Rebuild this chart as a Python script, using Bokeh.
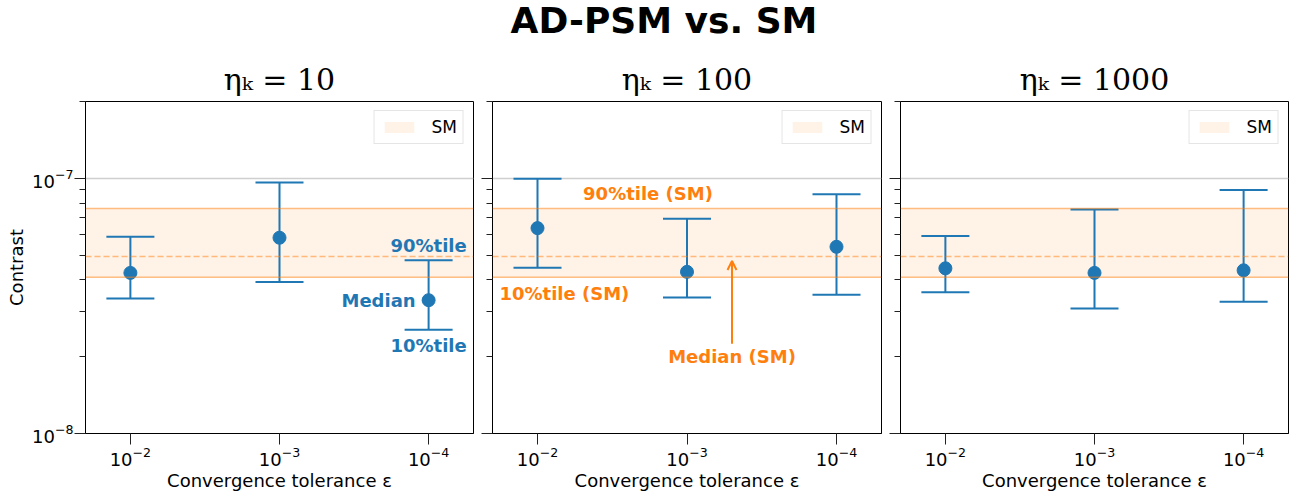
from bokeh.plotting import figure
from bokeh.models import (Range1d, FixedTicker, LogTickFormatter, Whisker, ColumnDataSource,
                          TeeHead, Span, Label, Arrow, OpenHead, Legend, LegendItem, Div,
                          CustomJSTickFormatter)
from bokeh.layouts import row, column
from bokeh.embed import file_html
from bokeh.resources import INLINE

# ---------------- data ----------------
eps = [1e-2, 1e-3, 1e-4]
eta_titles = ["ηₖ = 10", "ηₖ = 100", "ηₖ = 1000"]

median_10 = [4.26e-8, 5.85e-8, 3.33e-8]
p10_10 = [3.38e-8, 3.92e-8, 2.55e-8]
p90_10 = [5.90e-8, 9.64e-8, 4.77e-8]

median_100 = [6.38e-8, 4.30e-8, 5.39e-8]
p10_100 = [4.46e-8, 3.41e-8, 3.50e-8]
p90_100 = [9.96e-8, 6.94e-8, 8.66e-8]

median_1000 = [4.44e-8, 4.26e-8, 4.36e-8]
p10_1000 = [3.58e-8, 3.09e-8, 3.28e-8]
p90_1000 = [5.94e-8, 7.55e-8, 8.99e-8]

sm_median = 4.94e-8
sm_p10 = 4.10e-8
sm_p90 = 7.62e-8

# annotation anchors (panel 2)
arrow_x = 5e-4
arrow_text_y = 2e-8
arrow_start_y = 2.25e-8

BLUE = "#1f77b4"
ORANGE = "#ff7f0e"
FONT = "DejaVu Sans"

panels = [(median_10, p10_10, p90_10), (median_100, p10_100, p90_100),
          (median_1000, p10_1000, p90_1000)]

borders = [(85, 8), (11, 8), (11, 8)]
fwidths = [388, 389, 388]
figs = []
for i, ((med, lo, hi), (bl, br), fw) in enumerate(zip(panels, borders, fwidths)):
    xr = Range1d(2e-2, 5e-5)
    p = figure(x_axis_type="log", y_axis_type="log",
               x_range=xr, y_range=Range1d(1e-8, 2e-7),
               frame_width=fw, frame_height=332,
               min_border_left=bl, min_border_right=br, min_border_top=55, min_border_bottom=58,
               output_backend="svg", toolbar_location=None)
    p.background_fill_color = "white"
    p.border_fill_color = "white"
    p.outline_line_color = "black"
    p.outline_line_width = 1

    p.title.text = eta_titles[i]
    p.title.text_font = "DejaVu Serif"
    p.title.text_font_size = "30px"
    p.title.text_font_style = "normal"
    p.title.text_color = "black"
    p.title.align = "center"
    p.title.standoff = 10

    p.xgrid.visible = False
    p.ygrid.grid_line_color = "#cfcfcf"
    p.ygrid.grid_line_width = 1.5

    # x axis
    p.xaxis.ticker = FixedTicker(ticks=eps)
    p.xaxis.formatter = LogTickFormatter()
    p.xaxis.axis_label = "Convergence tolerance ε"
    # y axis
    p.yaxis.ticker = FixedTicker(ticks=[1e-8, 1e-7],
                                 minor_ticks=[k * 1e-8 for k in range(2, 10)] + [2e-7])
    if i == 0:
        p.yaxis.formatter = LogTickFormatter()
    else:
        p.yaxis.formatter = CustomJSTickFormatter(code="return ''")
    for ax in (p.xaxis[0], p.yaxis[0]):
        ax.axis_line_color = "black"
        ax.major_tick_line_color = "#222222"
        ax.minor_tick_line_color = "#222222"
        ax.major_tick_out = 11
        ax.major_tick_in = 0
        ax.minor_tick_out = 6
        ax.minor_tick_in = 0
        ax.major_label_text_font = FONT
        ax.major_label_text_font_size = "18px"
        ax.major_label_text_color = "black"
        ax.axis_label_text_font = FONT
        ax.axis_label_text_font_size = "18px"
        ax.axis_label_text_font_style = "normal"
        ax.axis_label_text_color = "black"
    p.xaxis.major_label_standoff = 2
    p.xaxis.axis_label_standoff = 1
    p.yaxis.major_label_standoff = 1
    p.yaxis.axis_label_standoff = 2
    if i == 0:
        p.yaxis.axis_label = "Contrast"
    else:
        p.yaxis.major_label_standoff = 0

    # SM band (spans the full x range)
    band = p.varea(x=[xr.start, xr.end], y1=[sm_p10, sm_p10], y2=[sm_p90, sm_p90],
                   fill_color=ORANGE, fill_alpha=0.1, level="underlay")
    p.add_layout(Span(location=sm_p10, dimension="width", line_color=ORANGE, line_alpha=0.5,
                      line_width=1.5))
    p.add_layout(Span(location=sm_p90, dimension="width", line_color=ORANGE, line_alpha=0.5,
                      line_width=1.5))
    p.add_layout(Span(location=sm_median, dimension="width", line_color=ORANGE, line_alpha=0.5,
                      line_width=1.5, line_dash="6 3"))

    # error bars
    src = ColumnDataSource(dict(x=eps, med=med, lo=lo, hi=hi))
    p.add_layout(Whisker(source=src, base="x", lower="lo", upper="hi", dimension="height",
                         line_color=BLUE, line_width=2,
                         upper_head=TeeHead(size=48, line_color=BLUE, line_width=2),
                         lower_head=TeeHead(size=48, line_color=BLUE, line_width=2)))
    p.scatter("x", "med", source=src, size=13, fill_color=BLUE, line_color=BLUE)

    legend = Legend(items=[LegendItem(label="SM", renderers=[band])], location="top_right",
                    margin=9, padding=6, glyph_width=37, glyph_height=14, label_standoff=14,
                    label_text_font=FONT, label_text_font_size="17px", label_text_color="black",
                    border_line_color="#cccccc", border_line_width=1,
                    background_fill_alpha=0.8)
    p.add_layout(legend, "center")

    if i == 0:
        lab = dict(text_font=FONT, text_font_size="18px", text_font_style="bold", text_color=BLUE)
        p.add_layout(Label(x=eps[2], y=hi[2], text="90%tile", text_align="center",
                           text_baseline="bottom", y_offset=4, **lab))
        p.add_layout(Label(x=eps[2], y=med[2], text="Median", text_align="right",
                           text_baseline="middle", x_offset=-13, **lab))
        p.add_layout(Label(x=eps[2], y=lo[2], text="10%tile", text_align="center",
                           text_baseline="top", y_offset=-5, **lab))
    if i == 1:
        lab = dict(text_font=FONT, text_font_size="18px", text_font_style="bold", text_color=ORANGE)
        p.add_layout(Label(x=eps[1], y=sm_p90, text="90%tile (SM)", text_align="center",
                           text_baseline="bottom", x_offset=-39, y_offset=4, **lab))
        p.add_layout(Label(x=eps[0], y=sm_p10, text="10%tile (SM)", text_align="left",
                           text_baseline="top", x_offset=-38, y_offset=-6, **lab))
        p.add_layout(Label(x=arrow_x, y=arrow_text_y, text="Median (SM)", text_align="center",
                           text_baseline="middle", **lab))
        p.add_layout(Arrow(x_start=arrow_x, y_start=arrow_start_y, x_end=arrow_x,
                           y_end=sm_median * 0.96, line_color=ORANGE, line_width=2,
                           end=OpenHead(size=9, line_color=ORANGE, line_width=2)))
    figs.append(p)

title = Div(text='<div style="font-family:\'DejaVu Sans\'; font-weight:bold; font-size:36px; '
                 'line-height:41px; text-align:center; width:1296px; padding-left:32px; '
                 'box-sizing:border-box; color:black;">AD-PSM vs. SM</div>',
            width=1296, height=46, margin=(0, 0, 0, 0))

layout = column(title, row(*figs, spacing=0), spacing=0)
open("out.html", "w").write(file_html(layout, INLINE))
